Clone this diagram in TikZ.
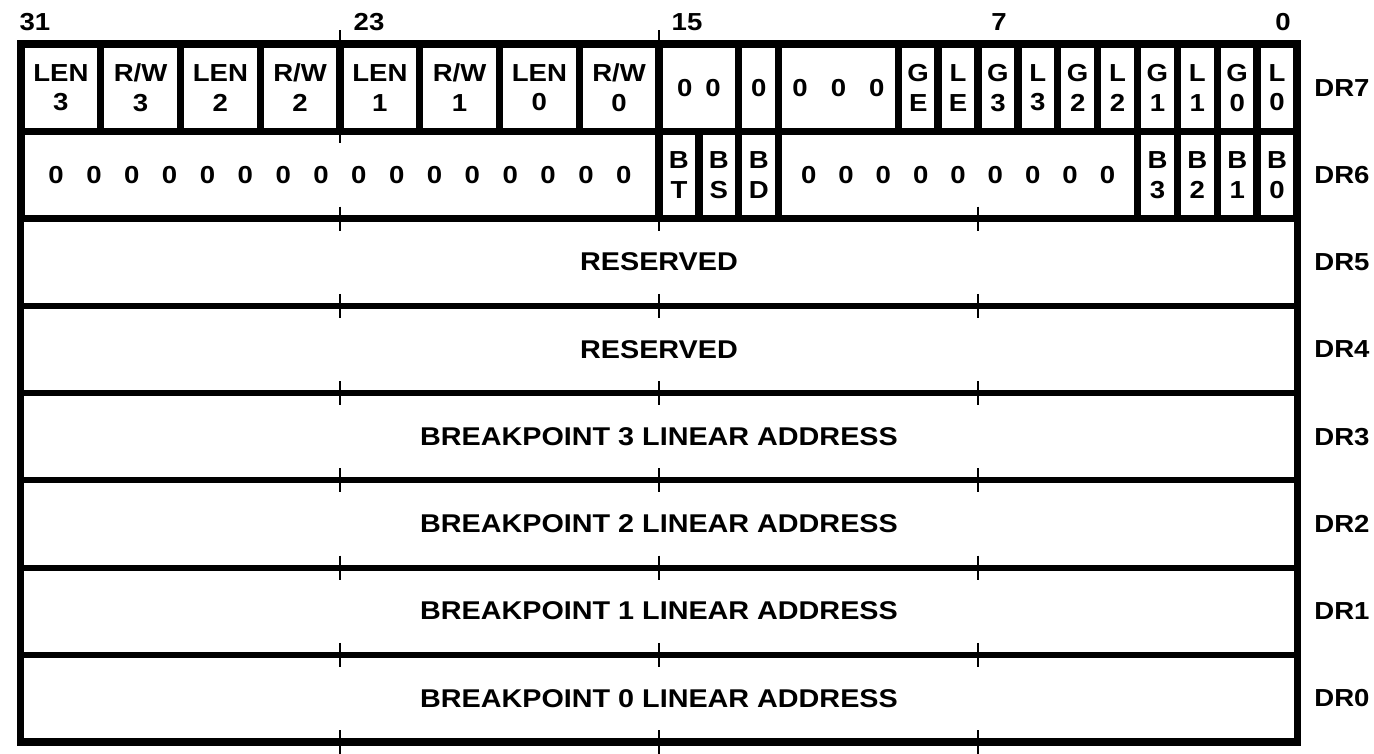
\documentclass[tikz,border=0pt]{standalone}
\usepackage{fontspec}
\setmainfont{Liberation Sans}[FakeStretch=1.12]
\usetikzlibrary{positioning}

\newcommand\zerorun[2]{0\foreach \zz in {2,...,#1}{\hspace{#2}0}}

\tikzset{
  reg/.style={draw, line width=1.7pt, minimum width=12.76cm, minimum height=0.8725cm, font=\fontsize{7.3}{8.5}\selectfont\bfseries},
  field/.style={draw, line width=2.1pt, minimum height=0.8725cm, align=center},
  regname/.style={anchor=west},
  bitno/.style={},
  tick/.style={line width=0.7pt}
}

\begin{document}
\begin{tikzpicture}[x=0.01cm, y=-0.01cm, every node/.style={inner sep=0pt, outer sep=0pt, font=\fontsize{7}{8.5}\selectfont\bfseries}]
\useasboundingbox (0,0) rectangle (1374,753);
% register rows, DR7 on top
\foreach \k/\r/\txt in {0/7/{}, 1/6/{}, 2/5/RESERVED, 3/4/RESERVED,
    4/3/{BREAKPOINT 3 LINEAR ADDRESS}, 5/2/{BREAKPOINT 2 LINEAR ADDRESS},
    6/1/{BREAKPOINT 1 LINEAR ADDRESS}, 7/0/{BREAKPOINT 0 LINEAR ADDRESS}} {
  \node[reg] (dr\r) at (659, {87.625+87.25*\k}) {\txt};
  \node[regname, right=0.17cm of dr\r] (name\r) {DR\r};
}
% DR7 fields
\foreach \nm/\hi/\lo/\txt in {len3/31/30/{LEN\\3}, rw3/29/28/{R/W\\3}, len2/27/26/{LEN\\2}, rw2/25/24/{R/W\\2},
    len1/23/22/{LEN\\1}, rw1/21/20/{R/W\\1}, len0/19/18/{LEN\\0}, rw0/17/16/{R/W\\0},
    za/15/14/{\zerorun{2}{0.13cm}}, zb/13/13/0, zc/12/10/{\zerorun{3}{0.23cm}},
    ge/9/9/{G\\E}, le/8/8/{L\\E}, g3/7/7/{G\\3}, l3/6/6/{L\\3}, g2/5/5/{G\\2}, l2/4/4/{L\\2},
    g1/3/3/{G\\1}, l1/2/2/{L\\1}, g0/1/1/{G\\0}, l0/0/0/{L\\0}}
  \node[field, minimum width={(\hi-\lo+1)*0.39875cm}] (dr7\nm) at ({21+39.875*(31-\hi)+19.9375*(\hi-\lo+1)}, 87.625) {\txt};
% DR6 fields
\foreach \nm/\hi/\lo/\txt in {zhi/31/16/{\zerorun{16}{0.225cm}}, bt/15/15/{B\\T}, bs/14/14/{B\\S}, bd/13/13/{B\\D},
    zlo/12/4/{\zerorun{9}{0.22cm}}, b3/3/3/{B\\3}, b2/2/2/{B\\2}, b1/1/1/{B\\1}, b0/0/0/{B\\0}}
  \node[field, minimum width={(\hi-\lo+1)*0.39875cm}] (dr6\nm) at ({21+39.875*(31-\hi)+19.9375*(\hi-\lo+1)}, 174.875) {\txt};
\draw[line width=2.2pt] (dr7.north west) rectangle (dr0.south east);
% bit numbers
\foreach \b/\bx in {31/35, 23/369, 15/687, 7/999, 0/1283}
  \node[bitno] (bit\b) at (\bx, 22) {\b};
% byte ticks
\draw[tick] (dr7len1.north west) -- ++(0,-14);
\draw[tick] (dr7za.north west) -- ++(0,-14);
\draw[tick] (dr7len1.south west) -- ++(0,12);
\foreach \k in {2,...,8}
  \foreach \tx in {340,659,978}
    \draw[tick] (\tx, {44+87.25*\k-12}) -- (\tx, {44+87.25*\k+12});
\end{tikzpicture}
\end{document}
